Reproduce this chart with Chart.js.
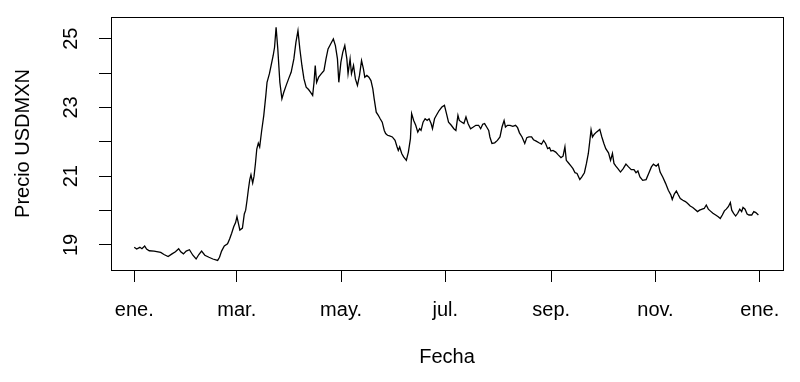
<!DOCTYPE html>
<html><head><meta charset="utf-8">
<script src="https://cdn.jsdelivr.net/npm/chart.js@4/dist/chart.umd.min.js"></script>
<style>html,body{margin:0;padding:0;background:#fff}</style>
</head><body>
<canvas id="c" width="800" height="382" style="width:800px;height:382px;display:block"></canvas>
<script>
// Día del año 2020 (0 = 1 de enero)
const dias = [0.0,1.4,3.3,4.5,6.1,7.2,8.8,11.6,15.5,17.4,19.8,22.1,24.1,26.0,27.2,28.8,30.4,32.3,34.3,36.2,37.8,39.4,41.3,43.7,46.0,48.8,49.9,51.1,52.7,54.6,55.8,57.0,58.2,59.3,60.1,61.8,63.3,64.4,65.2,66.0,66.8,67.6,68.3,69.3,70.1,70.9,71.7,72.6,73.4,74.5,75.8,77.0,77.7,79.1,80.1,81.3,82.1,83.0,84.0,85.2,86.4,87.5,88.9,90.3,91.8,93.4,94.6,95.8,96.9,98.1,99.3,100.6,102.0,103.2,104.4,105.2,105.9,106.7,107.9,109.5,111.0,112.2,113.4,115.0,116.5,117.7,118.9,119.7,120.9,122.0,123.2,124.4,125.1,126.3,127.1,128.3,129.4,130.6,131.8,133.0,134.1,134.9,136.1,137.3,138.5,139.6,140.4,141.6,142.8,143.9,145.1,146.3,147.1,148.2,149.4,151.0,152.6,153.8,154.5,155.3,156.5,157.6,159.2,160.4,161.6,162.3,163.5,164.7,165.9,167.0,167.8,169.0,170.2,171.4,172.5,173.7,174.5,175.7,176.8,178.4,180.0,181.5,182.7,183.9,185.5,187.0,188.2,189.4,190.2,191.7,192.9,194.1,195.3,196.8,198.4,199.9,201.5,202.7,203.9,205.0,206.2,207.4,208.1,209.3,210.9,212.5,214.0,215.2,216.4,217.2,218.4,219.9,221.5,223.1,224.3,225.4,226.9,228.5,229.7,230.9,232.5,233.6,235.2,236.8,238.3,239.5,240.7,241.9,243.0,243.8,245.0,246.6,248.1,249.7,250.9,252.0,252.8,254.0,255.6,256.7,257.9,259.1,260.7,261.9,263.4,264.6,265.7,266.6,267.3,268.1,269.2,270.4,272.4,273.6,274.8,275.9,277.5,278.7,279.8,280.7,281.8,283.0,284.5,286.1,287.7,289.2,290.8,292.4,293.6,294.7,295.9,297.5,299.5,301.0,302.6,303.8,305.4,306.6,307.7,309.3,310.9,312.5,314.0,314.8,316.0,317.2,318.4,319.5,321.0,322.5,323.7,325.3,326.8,328.0,329.6,330.8,332.3,333.5,334.7,335.9,337.0,338.6,340.2,341.7,342.9,344.1,345.3,346.4,347.6,348.8,349.6,350.7,351.9,353.1,354.3,355.4,356.2,357.4,358.6,359.7,361.3,362.5,363.7,365.2];
const precio = [18.93,18.88,18.93,18.89,18.97,18.88,18.83,18.82,18.78,18.72,18.66,18.74,18.80,18.89,18.80,18.74,18.82,18.86,18.70,18.59,18.72,18.82,18.70,18.64,18.59,18.55,18.64,18.82,18.97,19.03,19.17,19.34,19.53,19.65,19.82,19.43,19.49,19.90,20.01,20.30,20.62,20.90,21.04,20.80,21.00,21.36,21.79,21.96,21.85,22.30,22.77,23.35,23.73,23.98,24.22,24.51,24.75,25.33,24.70,23.73,23.25,23.44,23.64,23.83,24.02,24.41,24.89,25.23,24.70,24.22,23.83,23.59,23.52,23.44,23.35,23.73,24.22,23.73,23.88,23.98,24.07,24.41,24.70,24.85,24.99,24.80,24.41,23.73,24.31,24.60,24.80,24.41,23.98,24.41,23.98,24.22,23.83,23.64,23.93,24.36,24.12,23.88,23.93,23.88,23.78,23.54,23.25,22.86,22.77,22.67,22.57,22.33,22.24,22.19,22.17,22.14,22.04,21.85,21.75,21.85,21.66,21.56,21.46,21.70,22.09,22.82,22.62,22.48,22.28,22.38,22.33,22.57,22.67,22.62,22.67,22.53,22.38,22.67,22.77,22.91,23.01,23.06,22.82,22.57,22.48,22.38,22.33,22.77,22.62,22.57,22.53,22.72,22.53,22.38,22.43,22.48,22.48,22.38,22.51,22.53,22.43,22.33,22.14,21.95,21.97,22.04,22.14,22.43,22.62,22.43,22.48,22.48,22.45,22.48,22.41,22.26,22.14,21.95,22.12,22.14,22.14,22.06,22.02,21.97,21.93,22.04,21.95,21.80,21.83,21.73,21.75,21.70,21.62,21.54,21.58,21.85,21.46,21.39,21.29,21.22,21.10,21.08,20.90,20.98,21.10,21.37,21.66,22.04,22.35,22.14,22.22,22.28,22.36,22.14,21.95,21.80,21.68,21.46,21.66,21.37,21.29,21.22,21.12,21.22,21.35,21.27,21.19,21.19,21.10,21.15,20.98,20.88,20.90,21.08,21.27,21.35,21.29,21.35,21.12,20.97,20.79,20.59,20.45,20.32,20.48,20.57,20.45,20.35,20.30,20.26,20.21,20.13,20.09,20.04,19.97,20.01,20.04,20.06,20.16,20.04,19.99,19.92,19.87,19.82,19.77,19.87,19.99,20.04,20.11,20.23,20.01,19.92,19.84,19.92,20.04,19.97,20.09,20.04,19.90,19.87,19.87,19.97,19.94,19.87];
const xTicks = [0,60,121,182,244,305,366];
const xEtiquetas = ['ene.','mar.','may.','jul.','sep.','nov.','ene.'];
const yTicks = [19,20,21,22,23,24,25];
const yEtiquetas = ['19','','21','','23','','25'];

const FONT = "'Liberation Sans', Arial, sans-serif";
const FS = 20;

const boxPlugin = {
  id: 'box',
  afterDraw(chart) {
    const a = chart.chartArea, ctx = chart.ctx;
    ctx.save();
    ctx.strokeStyle = '#000'; ctx.lineWidth = 1;
    ctx.strokeRect(Math.round(a.left) + 0.5, Math.round(a.top) + 0.5, Math.round(a.right - a.left), Math.round(a.bottom - a.top));
    ctx.restore();
  }
};

function noPad(s) { s.paddingTop = 0; s.paddingBottom = 0; s.paddingLeft = 0; s.paddingRight = 0; }

new Chart(document.getElementById('c'), {
  type: 'line',
  data: { datasets: [{
    data: dias.map((d, i) => ({ x: d, y: precio[i] })),
    borderColor: '#000', borderWidth: 1.3, pointRadius: 0, tension: 0, fill: false
  }]},
  options: {
    responsive: false, animation: false, devicePixelRatio: 1,
    layout: { padding: { top: 17, right: 17, left: 0, bottom: 0 } },
    plugins: { legend: { display: false }, tooltip: { enabled: false } },
    scales: {
      x: {
        type: 'linear', min: -13.6, max: 379.6,
        afterBuildTicks: s => { s.ticks = xTicks.map(v => ({ value: v })); },
        afterFit: s => { s.height = 112; noPad(s); },
        ticks: { autoSkip: false, maxRotation: 0, minRotation: 0, padding: 16, color: '#000',
          font: { family: FONT, size: FS }, callback: (v, i) => xEtiquetas[i] },
        grid: { display: true, drawOnChartArea: false, drawTicks: true, tickLength: 12, color: '#000', lineWidth: 1 },
        border: { display: false },
        title: { display: true, text: 'Fecha', color: '#000', font: { family: FONT, size: FS }, padding: { bottom: 13, top: 0 } }
      },
      y: {
        type: 'linear', min: 18.27, max: 25.63,
        afterBuildTicks: s => { s.ticks = yTicks.map(v => ({ value: v })); },
        afterFit: s => { s.width = 111; noPad(s); },
        ticks: { autoSkip: false, minRotation: 90, maxRotation: 90, crossAlign: 'center', padding: 16, color: '#000',
          font: { family: FONT, size: FS }, callback: (v, i) => yEtiquetas[i] },
        grid: { display: true, drawOnChartArea: false, drawTicks: true, tickLength: 12, color: '#000', lineWidth: 1 },
        border: { display: false },
        title: { display: true, text: 'Precio USDMXN', color: '#000', font: { family: FONT, size: FS }, padding: { top: 11, bottom: 0 } }
      }
    }
  },
  plugins: [boxPlugin]
});
</script>
</body></html>
